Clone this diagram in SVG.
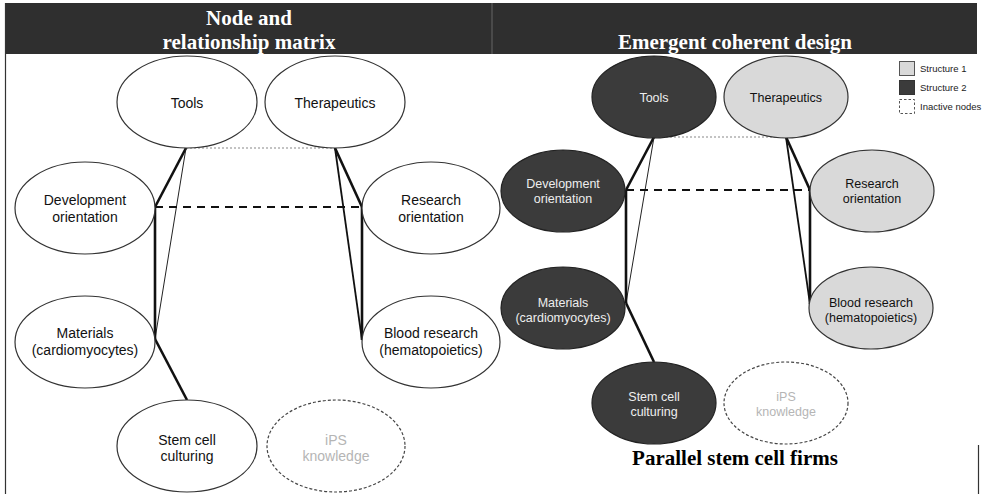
<svg xmlns="http://www.w3.org/2000/svg" width="984" height="494" viewBox="0 0 984 494">
<style>
.hdr{font-family:"Liberation Serif","Times New Roman",serif;font-weight:bold;fill:#fff;font-size:21px;text-anchor:middle}
.ttl{font-family:"Liberation Serif","Times New Roman",serif;font-weight:bold;fill:#000;font-size:21px;text-anchor:middle}
.n{fill:#fff;stroke:#333;stroke-width:1.2}
.d{fill:#3b3b3b;stroke:#222;stroke-width:1.2}
.l{fill:#d9d9d9;stroke:#333;stroke-width:1.2}
.i{fill:#fff;stroke:#444;stroke-width:1.2;stroke-dasharray:3 2}
.t{font-family:"Liberation Sans",Arial,sans-serif;font-size:14px;fill:#111;text-anchor:middle}
.ts{font-family:"Liberation Sans",Arial,sans-serif;font-size:12.5px;fill:#111;text-anchor:middle}
.tw{fill:#eee}
.tg{fill:#b5b5b5}
.thick{stroke:#111;stroke-width:2.6;fill:none}
.med{stroke:#111;stroke-width:1.8;fill:none}
.thin{stroke:#222;stroke-width:1;fill:none}
.dash{stroke:#111;stroke-width:2;stroke-dasharray:8 6;fill:none}
.dot{stroke:#888;stroke-width:1.2;stroke-dasharray:2 2;fill:none}
.lg{font-family:"Liberation Sans",Arial,sans-serif;font-size:9.5px;fill:#222}
</style>
<rect x="0" y="0" width="984" height="494" fill="#fff"/>
<g id="header">
<rect x="5" y="3" width="972" height="51" fill="#2f2f2f"/>
<line x1="492" y1="3" x2="492" y2="54" stroke="#666" stroke-width="1"/>
<text class="hdr" x="249" y="25">Node and</text>
<text class="hdr" x="249" y="49">relationship matrix</text>
<text class="hdr" x="735" y="49">Emergent coherent design</text>
</g>
<g id="frame">
<line x1="5.5" y1="3" x2="5.5" y2="494" stroke="#333" stroke-width="1.2"/>
<line x1="978.5" y1="445" x2="978.5" y2="494" stroke="#333" stroke-width="1.2"/>
</g>
<g id="connectors">
<line class="dot" x1="186" y1="148" x2="335" y2="148"/>
<line class="thick" x1="186" y1="148" x2="155" y2="207"/>
<line class="thin" x1="186" y1="148" x2="155" y2="339"/>
<line class="thick" x1="155" y1="207" x2="155" y2="339"/>
<line class="dash" x1="155" y1="207" x2="362" y2="207"/>
<line class="thick" x1="335" y1="148" x2="362" y2="207"/>
<line class="med" x1="335" y1="148" x2="362" y2="340"/>
<line class="thick" x1="362" y1="207" x2="362" y2="340"/>
<line class="thick" x1="155" y1="339" x2="187" y2="400"/>
<line class="dot" x1="654" y1="137" x2="786" y2="137"/>
<line class="thick" x1="654" y1="137" x2="626" y2="190"/>
<line class="thin" x1="654" y1="137" x2="626" y2="303"/>
<line class="thick" x1="626" y1="190" x2="626" y2="303"/>
<line class="dash" x1="626" y1="190" x2="810" y2="190"/>
<line class="thick" x1="786" y1="137" x2="810" y2="190"/>
<line class="med" x1="786" y1="137" x2="810" y2="304"/>
<line class="thick" x1="810" y1="190" x2="810" y2="304"/>
<line class="thick" x1="626" y1="303" x2="654" y2="362"/>
</g>
<g id="L-tools"><ellipse class="n" cx="187" cy="102" rx="70" ry="46"/><text class="t" x="187" y="108">Tools</text></g>
<g id="L-therapeutics"><ellipse class="n" cx="335" cy="102" rx="70" ry="46"/><text class="t" x="335" y="108">Therapeutics</text></g>
<g id="L-development"><ellipse class="n" cx="85" cy="208" rx="70" ry="46"/><text class="t" x="85" y="205">Development</text><text class="t" x="85" y="222">orientation</text></g>
<g id="L-research"><ellipse class="n" cx="431" cy="208" rx="69" ry="46"/><text class="t" x="431" y="205">Research</text><text class="t" x="431" y="222">orientation</text></g>
<g id="L-materials"><ellipse class="n" cx="85" cy="342" rx="70" ry="46"/><text class="t" x="85" y="338">Materials</text><text class="t" x="85" y="355">(cardiomyocytes)</text></g>
<g id="L-blood"><ellipse class="n" cx="431" cy="342" rx="69" ry="46"/><text class="t" x="431" y="338">Blood research</text><text class="t" x="431" y="355">(hematopoietics)</text></g>
<g id="L-stemcell"><ellipse class="n" cx="187" cy="446" rx="70" ry="46"/><text class="t" x="187" y="445">Stem cell</text><text class="t" x="187" y="461">culturing</text></g>
<g id="L-ips"><ellipse class="i" cx="336" cy="446" rx="69" ry="46"/><text class="t tg" x="336" y="445">iPS</text><text class="t tg" x="336" y="461">knowledge</text></g>
<g id="R-tools"><ellipse class="d" cx="654" cy="97" rx="62" ry="41"/><text class="ts tw" x="654" y="102">Tools</text></g>
<g id="R-therapeutics"><ellipse class="l" cx="786" cy="97" rx="62" ry="41"/><text class="ts" x="786" y="102">Therapeutics</text></g>
<g id="R-development"><ellipse class="d" cx="563" cy="191" rx="62" ry="41"/><text class="ts tw" x="563" y="188">Development</text><text class="ts tw" x="563" y="203">orientation</text></g>
<g id="R-research"><ellipse class="l" cx="872" cy="191" rx="62" ry="41"/><text class="ts" x="872" y="188">Research</text><text class="ts" x="872" y="203">orientation</text></g>
<g id="R-materials"><ellipse class="d" cx="563" cy="308" rx="62" ry="41"/><text class="ts tw" x="563" y="307">Materials</text><text class="ts tw" x="563" y="322">(cardiomyocytes)</text></g>
<g id="R-blood"><ellipse class="l" cx="871" cy="308" rx="62" ry="41"/><text class="ts" x="871" y="307">Blood research</text><text class="ts" x="871" y="322">(hematopoietics)</text></g>
<g id="R-stemcell"><ellipse class="d" cx="654" cy="403" rx="62" ry="41"/><text class="ts tw" x="654" y="401">Stem cell</text><text class="ts tw" x="654" y="416">culturing</text></g>
<g id="R-ips"><ellipse class="i" cx="786" cy="403" rx="62" ry="41"/><text class="ts tg" x="786" y="401">iPS</text><text class="ts tg" x="786" y="416">knowledge</text></g>
<g id="legend">
<rect x="899.5" y="61.5" width="15" height="14" fill="#d9d9d9" stroke="#555" stroke-width="1"/>
<rect x="899.5" y="80.5" width="15" height="14" fill="#3b3b3b" stroke="#333" stroke-width="1"/>
<rect x="899.5" y="99.5" width="15" height="14" fill="#fff" stroke="#555" stroke-width="1" stroke-dasharray="2.5 2"/>
<text class="lg" x="920" y="72">Structure 1</text>
<text class="lg" x="920" y="91">Structure 2</text>
<text class="lg" x="920" y="110">Inactive nodes</text>
</g>
<text class="ttl" x="735" y="465">Parallel stem cell firms</text>
</svg>
